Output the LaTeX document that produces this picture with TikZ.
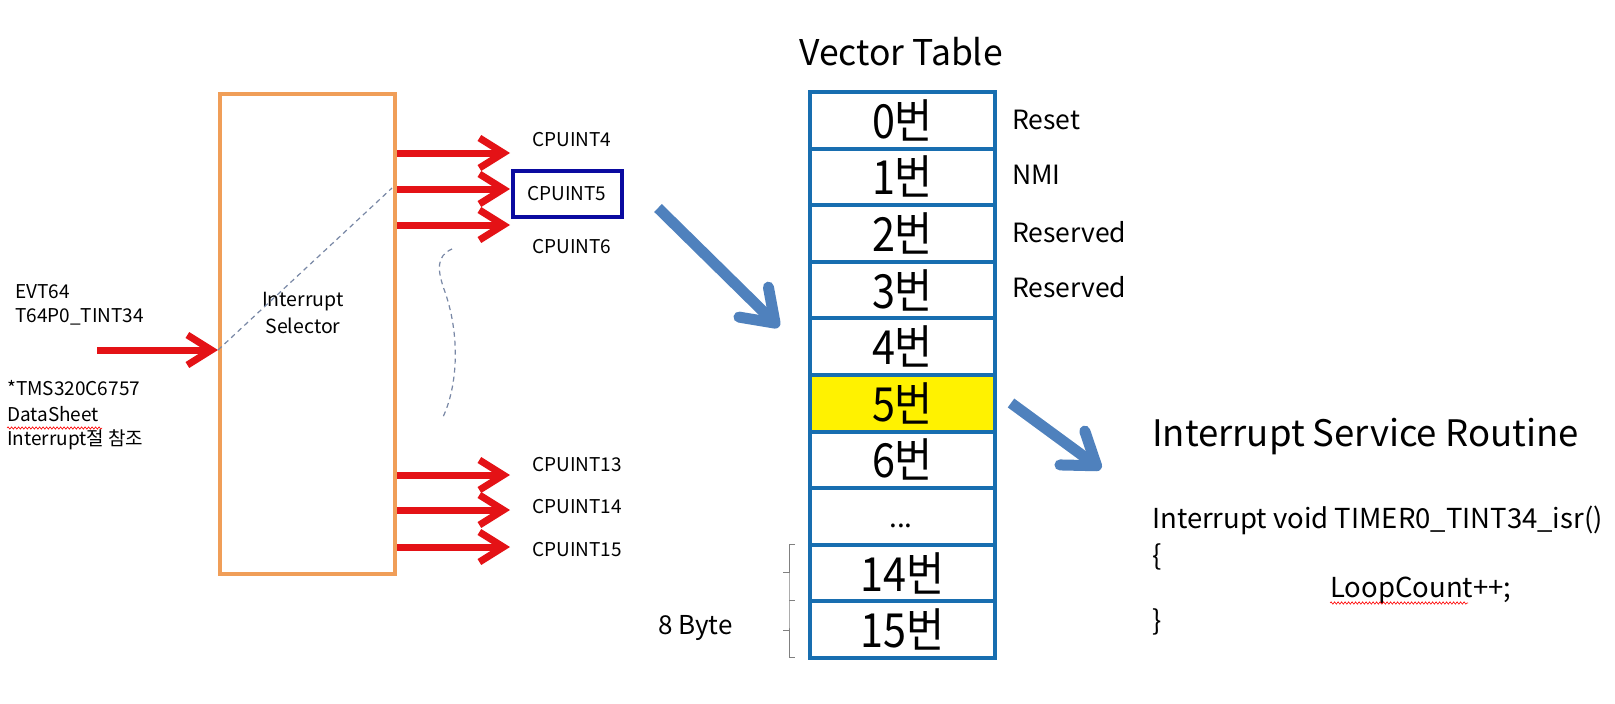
\documentclass[tikz,border=0pt]{standalone}
\usepackage{fontspec}
\setmainfont{Noto Sans CJK KR}
\newfontfamily\cellfont[FakeStretch=0.88]{Noto Sans CJK KR}
\usetikzlibrary{arrows.meta,decorations.pathmorphing}
\definecolor{selc}{RGB}{240,158,88}
\definecolor{redarr}{RGB}{228,18,22}
\definecolor{vblue}{RGB}{24,110,176}
\definecolor{barrow}{RGB}{79,129,189}
\definecolor{cpublue}{RGB}{10,10,160}
\definecolor{dashc}{RGB}{120,135,165}
\tikzset{
  redarrow/.style={draw=redarr, line width=7, -{Straight Barb[length=24, width=30]}},
  bluearrow/.style={draw=barrow, line width=11, -{Straight Barb[length=30, width=42, round]}},
  small/.style={font=\fontsize{19}{22}\selectfont, inner sep=0, anchor=west},
  side/.style={font=\fontsize{26.5}{30}\selectfont, inner sep=0, anchor=west},
  code/.style={font=\fontsize{27.5}{32}\selectfont, inner sep=0, anchor=west},
  cell/.style={draw=vblue, line width=4, minimum width=185, minimum height=56.6, inner sep=0, font=\cellfont\fontsize{47}{50}\selectfont},
  wavy/.style={draw=red, line width=0.6, decorate, decoration={snake, amplitude=1.2, segment length=3.5}},
  dashln/.style={draw=dashc, line width=1.2, dash pattern=on 5 off 4}
}
\begin{document}
\begin{tikzpicture}[x=1pt,y=-1pt]
\useasboundingbox (0,0) rectangle (1615,704);
\fill[white] (0,0) rectangle (1615,704);

% interrupt selector
\node[draw=selc, line width=4, minimum width=175, minimum height=480, inner sep=0, anchor=north west] (sel) at (218,92) {};
\node[font=\fontsize{19.5}{27}\selectfont, align=center, inner sep=0] (selt) at (303,313) {Interrupt\\Selector};

% input
\node[small] (evt) at (15,292) {EVT64};
\node[small] (t64) at (15,317) {T64P0\_TINT34};
\coordinate (in) at (97,350);
\draw[redarrow] (in) -- (in -| sel.west);
\node[small] (tms) at (7,388) {*TMS320C6757};
\node[small] (ds) at (7,414) {DataSheet};
\node[small] (intr) at (7,440) {Interrupt절 참조};
\draw[wavy] (7,428) -- (102,428);

% outputs
\coordinate (o4) at (510,153);
\coordinate (o5) at (510,189);
\coordinate (o6) at (510,225);
\coordinate (o13) at (510,475);
\coordinate (o14) at (510,510);
\coordinate (o15) at (510,547);
\foreach \o in {o4,o5,o6,o13,o14,o15}
  \draw[redarrow] (\o -| sel.east) -- (\o);

\node[small] (c4) at (532,140) {CPUINT4};
\node[draw=cpublue, line width=4, minimum width=109, minimum height=46, inner sep=0, font=\fontsize{19}{22}\selectfont] (c5) at (567,194) {CPUINT5};
\node[small] (c6) at (532,247) {CPUINT6};
\node[small] (c13) at (532,465) {CPUINT13};
\node[small] (c14) at (532,507) {CPUINT14};
\node[small] (c15) at (532,550) {CPUINT15};

% dashed guides
\coordinate (dsA) at (392,188);
\draw[dashln] (in -| sel.west) -- (dsA);
\draw[dashln] (452,249) .. controls (436,256) and (437,270) .. (445,292) .. controls (460,335) and (458,385) .. (443,417);

% vector table
\node[font=\fontsize{35.5}{40}\selectfont, inner sep=0] (vt) at (901,52) {Vector Table};
\foreach \i/\t in {0/0번,1/1번,2/2번,3/3번,4/4번,6/6번,7/{},8/14번,9/15번}
  \node[cell] (r\i) at (902.5,{92+56.6*(\i+0.5)}) {\t};
\node[cell, fill=yellow] (r5) at (902.5,{92+56.6*5.5}) {5번};
\node[font=\fontsize{28}{30}\selectfont, inner sep=0] (rdots) at (901,526) {...};

\node[side] (lr) at (1012,120) {Reset};
\node[side] (ln) at (1012,175) {NMI};
\node[side] (lres1) at (1012,232) {Reserved};
\node[side] (lres2) at (1012,287) {Reserved};

% brace and 8 Byte
\draw[gray, line width=1] (795,544) -- (789,544) -- (789,600) -- (789,657) -- (795,657)
  (789,600) -- (795,600) (789,572) -- (783,572) (789,630) -- (783,630);
\node[font=\fontsize{26}{30}\selectfont, inner sep=0, anchor=west] (byte) at (658,628) {8 Byte};

% blue arrows
\coordinate (b1s) at (658,208);
\coordinate (b1e) at (779,327);
\draw[bluearrow] (b1s) -- (b1e);
\coordinate (b2s) at (1011,403);
\coordinate (b2e) at (1101,469);
\draw[bluearrow] (b2s) -- (b2e);

% ISR
\node[font=\fontsize{36.5}{40}\selectfont, inner sep=0, anchor=west] (isr) at (1152,437) {Interrupt Service Routine};
\node[code] (l1) at (1152,520) {Interrupt void TIMER0\_TINT34\_isr()};
\node[code] (l2) at (1152,557) {\{};
\node[code] (l3) at (1330,590) {LoopCount++;};
\node[code] (l4) at (1152,622) {\}};
\draw[wavy] (1330,603) -- (1468,603);
\end{tikzpicture}
\end{document}
